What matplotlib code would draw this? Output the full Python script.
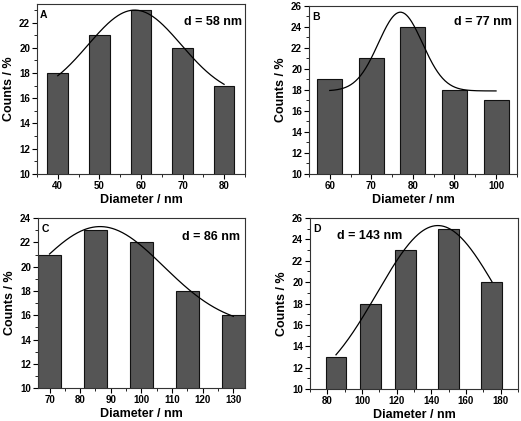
#-*- coding: utf-8 -*-
import matplotlib
matplotlib.use('Agg')
import matplotlib.pyplot as plt
import numpy as np
from matplotlib.ticker import MultipleLocator, AutoMinorLocator

plt.rcParams['font.family'] = ['Liberation Sans', 'DejaVu Sans']
plt.rcParams['font.weight'] = 'bold'

# bar data
a_x = [40, 50, 60, 70, 80]
a_y = [18, 21, 23, 20, 17]
b_x = [60, 70, 80, 90, 100]
b_y = [19, 21, 24, 18, 17]
c_x = [70, 85, 100, 115, 130]
c_y = [21, 23, 22, 18, 16]
d_x = [85, 105, 125, 150, 175]
d_y = [13, 18, 23, 25, 20]

# gaussian fit parameters (y0, A, xc, sigma) estimated from the curves
a_fit = [16.0, 7.0, 58.5, 11.2]
b_fit = [17.9, 7.5, 77.0, 5.3]
c_fit = [15.0, 8.3, 86.5, 20.7]
d_fit = [9.3, 16.0, 143.8, 35.0]

labels = ['A', 'B', 'C', 'D']
notes = ['d = 58 nm', 'd = 77 nm', 'd = 86 nm', 'd = 143 nm']

fig = plt.figure(figsize=(5.21, 4.21), dpi=100)
# [left, bottom, width, height] in figure fraction
boxes = [[0.071, 0.587, 0.399, 0.404],
         [0.593, 0.587, 0.399, 0.399],
         [0.073, 0.078, 0.397, 0.404],
         [0.595, 0.076, 0.399, 0.406]]
xlims = [(35, 85), (55, 105), (66.25, 133.75), (70, 190)]
ylims = [(10, 23.5), (10, 26), (10, 24), (10, 26)]
xmaj = [10, 10, 10, 20]
widths = [5, 6, 7.5, 12]
note_pos = [(0.986, 0.894, 'right'), (0.976, 0.902, 'right'),
            (0.976, 0.888, 'right'), (0.13, 0.895, 'left')]

data = [(a_x, a_y, a_fit), (b_x, b_y, b_fit), (c_x, c_y, c_fit), (d_x, d_y, d_fit)]

for i, (xs, ys, fit) in enumerate(data):
    ax = fig.add_axes(boxes[i])
    ax.bar(xs, ys, width=widths[i], color='#555555', edgecolor='#111111', linewidth=0.8, zorder=2)
    y0, amp, xc, s = fit
    xx = np.linspace(xs[0], xs[-1], 200)
    ax.plot(xx, y0 + amp * np.exp(-(xx - xc) ** 2 / (2 * s ** 2)), color='black', lw=0.9, zorder=3)
    ax.set_xlim(*xlims[i])
    ax.set_ylim(*ylims[i])
    ax.xaxis.set_major_locator(MultipleLocator(xmaj[i]))
    ax.xaxis.set_minor_locator(AutoMinorLocator(2))
    ax.yaxis.set_major_locator(MultipleLocator(2))
    ax.yaxis.set_minor_locator(AutoMinorLocator(2))
    ax.tick_params(which='major', direction='out', length=3.5, width=0.8, labelsize=7, pad=1.5)
    ax.tick_params(which='minor', direction='out', length=2, width=0.6)
    for sp in ax.spines.values():
        sp.set_color('#333333')
        sp.set_linewidth(0.8)
    for lab in ax.get_xticklabels() + ax.get_yticklabels():
        lab.set_fontweight('bold')
    ax.set_xlabel('Diameter / nm', fontsize=9, fontweight='bold', labelpad=2)
    ax.set_ylabel('Counts / %', fontsize=9, fontweight='bold', labelpad=3)
    ax.text(0.015, 0.965, labels[i], transform=ax.transAxes, fontsize=7.5,
            fontweight='bold', va='top', ha='left')
    nx, ny, ha = note_pos[i]
    ax.text(nx, ny, notes[i], transform=ax.transAxes, fontsize=9,
            fontweight='bold', va='center', ha=ha)

fig.savefig('out.png', dpi=100)
